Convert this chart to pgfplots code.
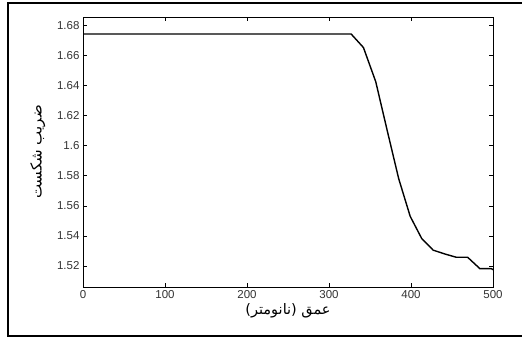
\documentclass[border=0pt]{standalone}
\usepackage{pgfplots}
\pgfplotsset{compat=1.18}
\usepackage{fontspec}
\setmainfont{Liberation Sans}
\newfontfamily\arabicfont[Script=Arabic]{DejaVu Sans}
\TeXXeTstate=1
\begin{document}
\begin{tikzpicture}[x=1pt,y=1pt]
\useasboundingbox (0,0) rectangle (522,338);
\begin{axis}[
  at={(83pt,51pt)}, anchor=south west,
  width=410pt, height=270pt, scale only axis,
  xmin=0, xmax=500, ymin=1.506, ymax=1.6855,
  xtick={0,100,...,500},
  ytick={1.52,1.54,...,1.681},
  yticklabel style={/pgf/number format/fixed,/pgf/number format/precision=2},
  /pgf/number format/assume math mode=true,
  tick align=inside, tick pos=both,
  major tick length=4pt,
  tick style={black, line width=0.5pt},
  axis line style={black, line width=0.6pt},
  ticklabel style={font=\fontsize{11.5}{13}\selectfont, text=black!80},
  xlabel={\arabicfont\beginR عمق (نانومتر)\endR},
  ylabel={\arabicfont\beginR ضریب شکست\endR},
  xlabel style={font=\fontsize{14.5}{16}\selectfont, yshift=2pt},
  ylabel style={font=\fontsize{15}{17}\selectfont, yshift=5pt},
]
\addplot[black, line width=1.4pt] coordinates {
(0,1.6742) (327,1.6742) (342,1.6652) (357,1.6425) (371,1.6100) (385,1.5780)
(399,1.5530) (413,1.5383) (427,1.5305) (441,1.5280) (455,1.5258) (469,1.5258)
(484,1.5182) (498,1.5182) (500,1.5175)
};
\end{axis}
\draw[line width=2.5pt, black] (522,335) -- (8,335) -- (8,2) -- (522,2);
\end{tikzpicture}
\end{document}
